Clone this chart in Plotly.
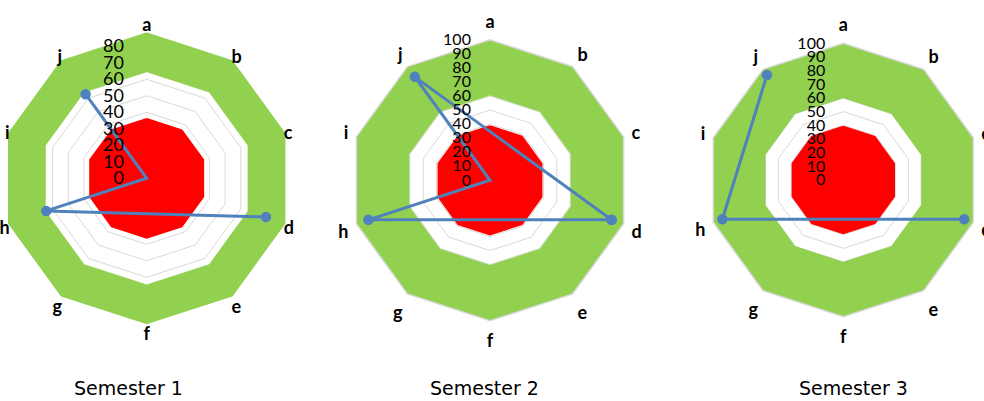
import plotly.graph_objects as go

# ---------------- data ----------------
categories = ["a", "b", "c", "d", "e", "f", "g", "h", "i", "j"]
titles = ["Semester 1", "Semester 2", "Semester 3"]
axis_max = [80, 100, 100]
axis_step = 10
green_outer = [88.5, 100, 100]      # outer edge of the green band
white_edge = [64.5, 60.5, 60]       # inner edge of the green band
red_level = [36, 38.5, 39]          # red core
sem1 = [None, None, None, 76, None, None, None, 64, 0, 63]
sem2 = [None, None, None, 91, None, None, None, 91, 0, 91]
sem3 = [None, None, None, 93, None, None, None, 93, None, 95]
series = [sem1, sem2, sem3]
closed = [False, True, False]

# ---------------- style ----------------
GREEN = "#92D050"
RED = "#FF0000"
BLUE = "#4F81BD"
GRID = "#D9D9D9"
W, H = 984, 401
tick_size = [18, 16, 16]
CAT_FONT = dict(family="Lato", size=18, color="#000000", weight="bold")
zero_marker_fill = ["white", BLUE, BLUE]

# centres (px) and outer radius (px) of each radar
centres = [(146.7, 178.3), (490.0, 180.3), (843.3, 180.0)]
radius_px = [132.0, 140.5, 136.7]
label_pad = [8, 4, 4]
radial_label_gap = [16, 13, 12]


def domain(cx, cy, r):
    return dict(x=[(cx - r) / W, (cx + r) / W],
                y=[(H - cy - r) / H, (H - cy + r) / H])


def band_theta():
    outer = categories + [categories[0]]
    inner = [categories[0]] + categories[:0:-1] + [categories[0]]
    return outer + inner


def ring_theta():
    return categories + [categories[0]]


fig = go.Figure()

# chart 1 uses two stacked polars (band layer below, data layer above)
band_ids = ["polar", "polar3", "polar4"]
data_ids = ["polar2", "polar3", "polar4"]

for k in range(3):
    bid, did = band_ids[k], data_ids[k]
    fig.add_trace(go.Scatterpolar(
        theta=band_theta(),
        r=[green_outer[k]] * 11 + [white_edge[k]] * 11,
        mode="lines", fill="toself", fillcolor=GREEN,
        line=dict(color=GREEN, width=0.5),
        subplot=bid, showlegend=False, hoverinfo="skip"))
    fig.add_trace(go.Scatterpolar(
        theta=ring_theta(), r=[red_level[k]] * 11,
        mode="lines", fill="toself", fillcolor=RED,
        line=dict(color=RED, width=2),
        subplot=did, showlegend=False, hoverinfo="skip"))
    pts = [(c, v) for c, v in zip(categories, series[k]) if v is not None]
    if closed[k]:
        pts.append(pts[0])
    fills = [zero_marker_fill[k] if p[1] == 0 else BLUE for p in pts]
    fig.add_trace(go.Scatterpolar(
        theta=[p[0] for p in pts], r=[p[1] for p in pts],
        mode="lines+markers",
        line=dict(color=BLUE, width=3),
        marker=dict(color=fills, size=8, line=dict(color=BLUE, width=2.5)),
        subplot=did, showlegend=False))


def cat_axis(pad, line):
    d = dict(type="category", categoryarray=categories, rotation=90,
             direction="clockwise", tickfont=CAT_FONT, showgrid=False,
             ticks="outside", ticklen=pad, tickcolor="rgba(0,0,0,0)",
             layer="above traces", showline=line)
    if line:
        d.update(linecolor=GRID, linewidth=1.5)
    return d


def rad_axis(k, grid):
    return dict(range=[0, axis_max[k]], dtick=axis_step, tick0=0,
                angle=90, tickangle=90, side="counterclockwise",
                tickfont=dict(family="Lato", size=tick_size[k], color="#000000"),
                ticks="outside", ticklen=radial_label_gap[k],
                tickcolor="rgba(0,0,0,0)", showline=False,
                showgrid=grid, gridcolor=GRID, gridwidth=1)


layout = dict(width=W, height=H, margin=dict(l=0, r=0, t=0, b=0),
              paper_bgcolor="white", plot_bgcolor="white", showlegend=False)

layout["polar"] = dict(
    domain=domain(*centres[0], radius_px[0] * green_outer[0] / axis_max[0]),
    gridshape="linear", bgcolor="rgba(0,0,0,0)",
    radialaxis=dict(range=[0, green_outer[0]], dtick=axis_step, tick0=0,
                    showticklabels=False, ticks="", showline=False,
                    gridcolor=GRID, gridwidth=1),
    angularaxis=dict(type="category", categoryarray=categories, rotation=90,
                     direction="clockwise", showticklabels=False,
                     showgrid=False, showline=False, ticks=""))
layout["polar2"] = dict(
    domain=domain(*centres[0], radius_px[0]),
    gridshape="linear", bgcolor="rgba(0,0,0,0)",
    radialaxis=rad_axis(0, False),
    angularaxis=cat_axis(label_pad[0], False))
for k, pid in [(1, "polar3"), (2, "polar4")]:
    layout[pid] = dict(
        domain=domain(*centres[k], radius_px[k]),
        gridshape="linear", bgcolor="rgba(0,0,0,0)",
        radialaxis=rad_axis(k, True),
        angularaxis=cat_axis(label_pad[k], True))

title_x = [128.5, 484.0, 853.0]
layout["annotations"] = [
    dict(text=t, x=x / W, y=13 / H, xref="paper", yref="paper",
         xanchor="center", yanchor="middle", showarrow=False,
         font=dict(family="DejaVu Sans", size=19, color="#000000"))
    for t, x in zip(titles, title_x)]

fig.update_layout(**layout)
fig.write_html("out.html",
               config={"displayModeBar": False},
               post_script="document.body.style.margin='0px';"
                           "document.body.style.overflow='hidden';")
